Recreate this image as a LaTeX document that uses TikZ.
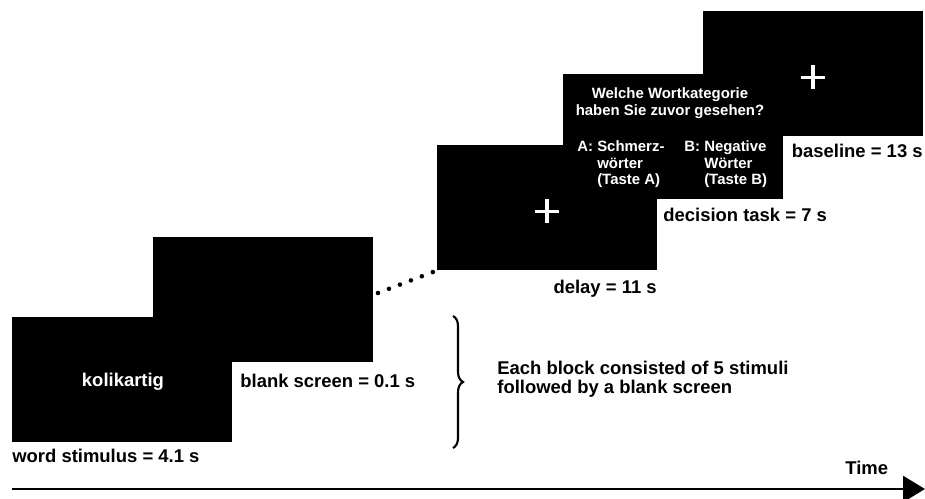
\documentclass[tikz,border=0pt]{standalone}
\usepackage{fontspec}
\setmainfont{Liberation Sans}
\usetikzlibrary{arrows.meta,calc,decorations.pathreplacing}

\begin{document}
\begin{tikzpicture}[x=0.02cm, y=-0.02cm,
    font=\bfseries\fontsize{10.5}{10.5}\selectfont,
    screen/.style={fill=black, minimum width=4.4cm, minimum height=2.5cm,
        inner sep=0pt, outer sep=0pt, anchor=north west},
    lbl/.style={inner sep=0pt},
    ask/.style={inner sep=0pt, text=white, font=\bfseries\fontsize{8.5}{9.2}\selectfont},
    fixcross/.style={white, line width=2pt},
    dotline/.style={line width=2.6pt, line cap=round, dash pattern=on 0pt off 6.68pt},
    timeline/.style={line width=1.7pt, -{Triangle[length=12.5pt, width=14.7pt]}}]
    \useasboundingbox (0,0) rectangle (925,499);

    % Bildschirme
    \node[screen] (word) at (12,317) {};
    \node[screen] (blank) at (153,237) {};
    \node[screen] (delay) at (437,145) {};
    \node[screen] (decision) at (563,74) {};
    \node[screen] (baseline) at (703,11) {};

    % Fixationskreuze
    \foreach \b in {delay,baseline} {
        \draw[fixcross] ($(\b.center)+(-12,4)$) -- ++(24,0)
                        ($(\b.center)+(0,-8)$) -- ++(0,24);
    }

    % Texte in den Bildschirmen
    \node[lbl, text=white, anchor=base] (wordtxt) at (123,386) {kolikartig};
    \node[ask, anchor=base] (question) at (670,99)
        {\begin{tabular}[t]{@{}c@{}}Welche Wortkategorie\\haben Sie zuvor gesehen?\end{tabular}};
    \node[ask, anchor=base west] (optA) at (577,152)
        {A: \begin{tabular}[t]{@{}l@{}}Schmerz-\\wörter\\(Taste A)\end{tabular}};
    \node[ask, anchor=base west] (optB) at (684,152)
        {B: \begin{tabular}[t]{@{}l@{}}Negative\\Wörter\\(Taste B)\end{tabular}};

    % Beschriftungen
    \node[lbl, anchor=base west] (wordlbl) at (12,462) {word stimulus = 4.1 s};
    \node[lbl, anchor=base west] (blanklbl) at (240,387) {blank screen = 0.1 s};
    \node[lbl, anchor=base east] (delaylbl) at (657,294) {delay = 11 s};
    \node[lbl, anchor=base west] (decisionlbl) at (663,222) {decision task = 7 s};
    \node[lbl, anchor=base east] (baselinelbl) at (923,158) {baseline = 13 s};

    % Punkte zwischen den Bildschirmen
    \coordinate (dotstart) at (378,293);
    \coordinate (dotend) at (433,272);
    \draw[dotline] (dotstart) -- (dotend);

    % Klammer und Erklärung
    \coordinate (bracetop) at (453,316);
    \coordinate (bracebot) at (453,448);
    \draw[line width=1.2pt, decorate, decoration={brace, amplitude=5.7pt}]
        (bracetop) -- (bracebot);
    \node[lbl, anchor=base west] (blocknote) at (497,375)
        {\begin{tabular}[t]{@{}l@{}}Each block consisted of 5 stimuli\\followed by a blank screen\end{tabular}};

    % Zeitachse
    \coordinate (tstart) at (12,489);
    \coordinate (tend) at (925,489);
    \draw[timeline] (tstart) -- (tend);
    \node[lbl, anchor=base west] (timelbl) at (845,474) {Time};
\end{tikzpicture}
\end{document}
